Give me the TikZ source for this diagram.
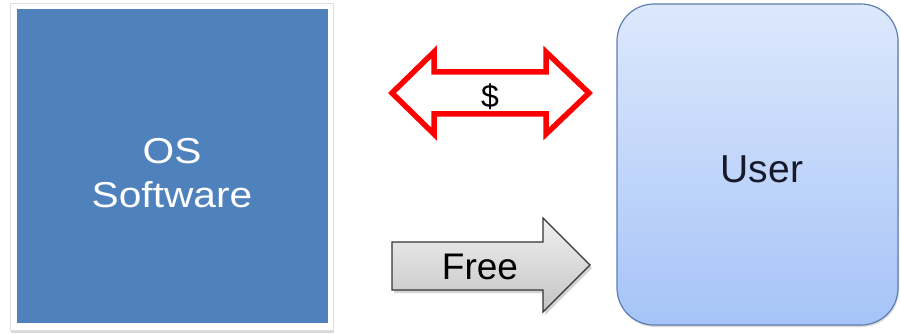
\documentclass[tikz,border=0pt]{standalone}
\usepackage{fontspec}
\setmainfont{Liberation Sans}
\newfontfamily\widefont[FakeStretch=1.13]{Liberation Sans}
\usetikzlibrary{shadows}
\definecolor{osblue}{HTML}{4F81BD}
\definecolor{usertop}{HTML}{DDE8FC}
\definecolor{userbot}{HTML}{A6C4F8}
\definecolor{userline}{HTML}{5E7FB3}
\definecolor{freetop}{HTML}{F0F0F0}
\definecolor{freebot}{HTML}{C4C4C4}
\definecolor{usertext}{HTML}{15192A}
\tikzset{
  lbl/.style={inner sep=0pt, align=center},
  moneyarrow/.style={draw=red, line width=5.5pt, line join=miter, fill=white},
  freearrow/.style={draw=black!80, line width=1.3pt, line join=miter, top color=freetop, bottom color=freebot,
     drop shadow={shadow xshift=2pt, shadow yshift=-3pt, opacity=0.35}},
  userbox/.style={draw=userline, line width=1.2pt, rounded corners=37pt, top color=usertop, bottom color=userbot,
     drop shadow={shadow xshift=1pt, shadow yshift=-2pt, opacity=0.3}},
  frame/.style={draw=black!12, line width=0.8pt, fill=white,
     drop shadow={shadow xshift=1pt, shadow yshift=-3pt, opacity=0.3}}
}
\begin{document}
\begin{tikzpicture}[x=1pt,y=-1pt]
\useasboundingbox (0,0) rectangle (901,334);
% OS software square
\path[frame] (10,3) rectangle (333,330);
\fill[osblue] (17,9) rectangle (328,323);
\node[lbl, text=white, font=\widefont\fontsize{36}{44}\selectfont] (os) at (172,173) {OS\\Software};
% User box
\path[userbox] (617,4) rectangle (898,325);
\node[lbl, text=usertext, font=\fontsize{39}{46}\selectfont] (user) at (762,169) {User};
% red double arrow
\draw[moneyarrow] (392,93) -- (434,52) -- (434,72) -- (546,72) -- (546,52) -- (589,93)
   -- (546,134) -- (546,114) -- (434,114) -- (434,134) -- cycle;
\node[lbl, font=\fontsize{32}{38}\selectfont] (dollar) at (490,97) {\$};
% Free arrow
\path[freearrow] (392,242) -- (543,242) -- (543,218) -- (590,265) -- (543,312) -- (543,290) -- (392,290) -- cycle;
\node[lbl, font=\fontsize{37}{44}\selectfont] (free) at (480,267) {Free};
\end{tikzpicture}
\end{document}
